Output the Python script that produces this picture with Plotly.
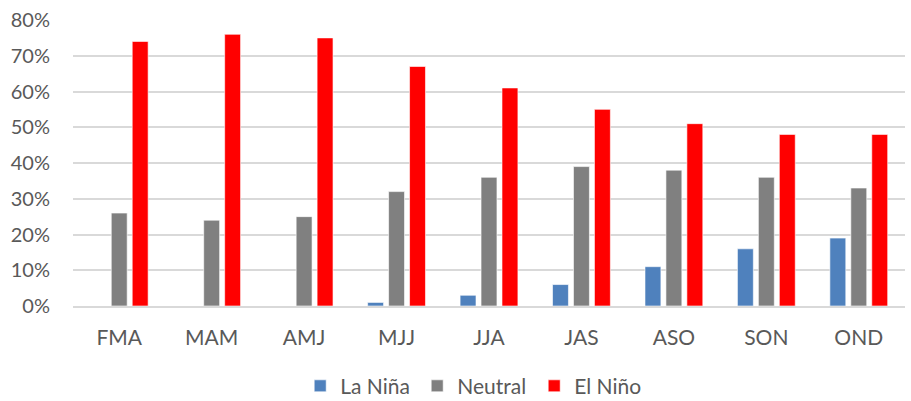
import plotly.graph_objects as go

# Three-month seasons and ENSO-state probabilities (%)
seasons = ["FMA", "MAM", "AMJ", "MJJ", "JJA", "JAS", "ASO", "SON", "OND"]
la_nina = [0, 0, 0, 1, 3, 6, 11, 16, 19]
neutral = [26, 24, 25, 32, 36, 39, 38, 36, 33]
el_nino = [74, 76, 75, 67, 61, 55, 51, 48, 48]

series = [
    ("La Niña", la_nina, "#4f81bd"),
    ("Neutral", neutral, "#808080"),
    ("El Niño", el_nino, "#ff0000"),
]

fig = go.Figure()
for name, vals, color in series:
    fig.add_trace(go.Bar(
        x=seasons,
        y=[v / 100 for v in vals],
        name=name,
        marker=dict(color=color, line=dict(color="rgba(255,255,255,0.6)", width=1)),
    ))

font_family = "Lato, 'Open Sans', sans-serif"
fig.update_layout(
    width=911,
    height=401,
    margin=dict(l=73, r=6, t=20, b=95, autoexpand=False),
    paper_bgcolor="white",
    plot_bgcolor="white",
    barmode="group",
    bargap=0.32,
    bargroupgap=0.24,
    font=dict(family=font_family, size=20, color="#595959"),
    legend=dict(
        orientation="h",
        x=0.484, xanchor="center",
        yref="container",
        y=0.037, yanchor="middle",
        font=dict(size=21, color="#595959"),
        itemwidth=30,
        entrywidth=72,
        entrywidthmode="pixels",
        traceorder="normal",
    ),
    xaxis=dict(
        showgrid=False,
        showline=True,
        linecolor="#d9d9d9",
        linewidth=2,
        ticks="",
        ticklabelstandoff=12,
        tickfont=dict(size=21, color="#595959"),
    ),
    yaxis=dict(
        range=[0, 0.8],
        tickvals=[i / 10 for i in range(9)],
        tickformat=".0%",
        showgrid=True,
        gridcolor="#d9d9d9",
        gridwidth=2,
        zeroline=False,
        ticks="",
        ticklabelstandoff=22,
        tickfont=dict(size=20, color="#595959"),
    ),
)

fig.write_html("out.html")
